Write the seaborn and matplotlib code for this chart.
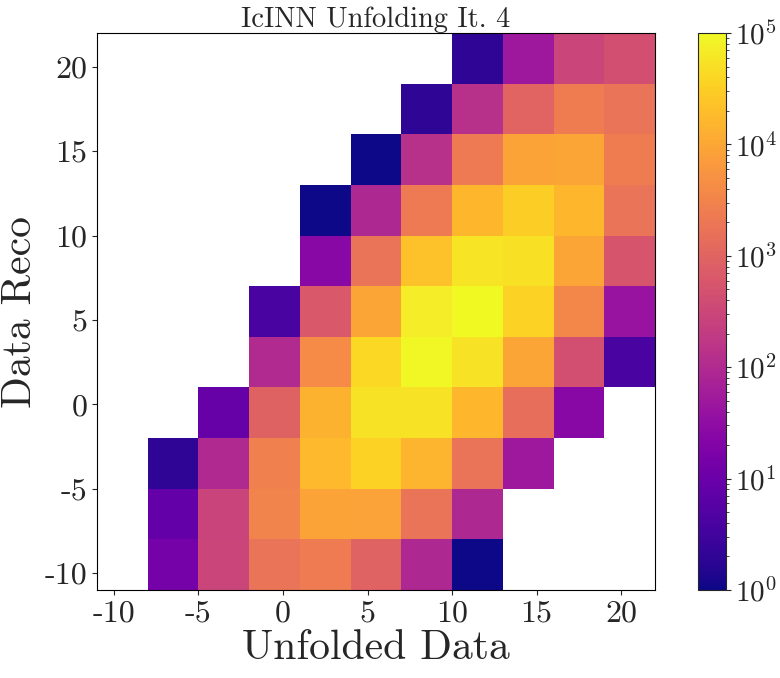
import numpy as np
import pandas as pd
import seaborn as sns
from matplotlib import pyplot as plt
from matplotlib.colors import LogNorm


# Bin edges (width 3) for both axes
edges = np.arange(-11, 23, 3)
centers = (edges[:-1] + edges[1:]) / 2

# Counts per cell, one list per "Data Reco" bin (bottom row first), columns = "Unfolded Data" bins
counts = [
    [0, 14, 300, 1800, 2300, 950, 90, 1, 0, 0, 0],
    [0, 8, 280, 3000, 9000, 8500, 1800, 90, 0, 0, 0],
    [0, 2, 95, 2800, 18000, 35000, 15000, 1800, 50, 0, 0],
    [0, 0, 9, 900, 14000, 55000, 55000, 16000, 1400, 25, 0],
    [0, 0, 0, 100, 4000, 42000, 95000, 55000, 9500, 450, 4],
    [0, 0, 0, 4, 630, 9500, 70000, 100000, 35000, 3500, 40],
    [0, 0, 0, 0, 25, 1800, 22000, 56000, 52000, 9500, 560],
    [0, 0, 0, 0, 1, 90, 2200, 16000, 32000, 16000, 1800],
    [0, 0, 0, 0, 0, 1, 130, 2200, 9000, 9500, 2400],
    [0, 0, 0, 0, 0, 0, 2, 130, 1000, 2500, 1800],
    [0, 0, 0, 0, 0, 0, 0, 2, 50, 300, 450],
]

rows = []
for j, row in enumerate(counts):
    for i, c in enumerate(row):
        rows.append({'unfolded': centers[i], 'reco': centers[j], 'count': c})
df = pd.DataFrame(rows)

sns.set_style("ticks")
plt.rcParams['font.family'] = 'serif'
plt.rcParams['font.serif'] = ['cmr10']
plt.rcParams['mathtext.fontset'] = 'cm'
plt.rcParams['axes.formatter.use_mathtext'] = False
plt.rcParams['axes.unicode_minus'] = False

fig = plt.figure(figsize=(7.8, 6.78), dpi=100)
ax = fig.add_axes([0.1244, 0.1298, 0.7153, 0.8215])
cax = fig.add_axes([0.895, 0.1298, 0.036, 0.8215])

sns.histplot(data=df, x='unfolded', y='reco', weights='count', bins=[edges, edges],
             cmap='plasma', norm=LogNorm(vmin=1, vmax=1e5), vmin=None, vmax=None,
             cbar=True, cbar_ax=cax, ax=ax)

ax.set_xlim(-11, 22)
ax.set_ylim(-11, 22)
ax.set_xticks([-10, -5, 0, 5, 10, 15, 20])
ax.set_yticks([-10, -5, 0, 5, 10, 15, 20])
ax.tick_params(labelsize=23)
cax.tick_params(labelsize=21, pad=3)
for s in ax.spines.values():
    s.set_visible(True)
    s.set_color('black')

ax.set_title('IcINN Unfolding It. 4', fontsize=20.5, pad=4)
ax.set_xlabel('Unfolded Data', fontsize=30, labelpad=2)
ax.set_ylabel('Data Reco', fontsize=30, labelpad=4)

plt.savefig('out.png')
